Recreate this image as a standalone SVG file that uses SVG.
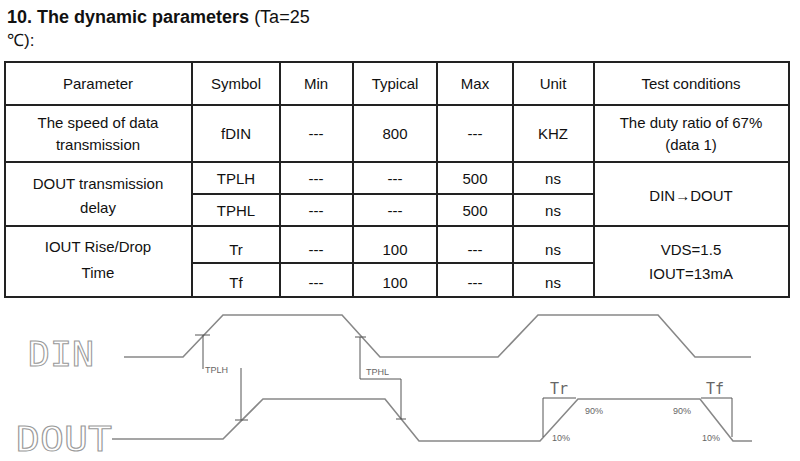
<svg xmlns="http://www.w3.org/2000/svg" width="800" height="461" viewBox="0 0 800 461">
<style>
.t{font-family:"Liberation Sans",Arial,sans-serif;font-size:15px;fill:#111;text-anchor:middle}
.g{fill:none;stroke:#222;stroke-width:2}
.w{fill:none;stroke:#888;stroke-width:1.6}
.d{fill:none;stroke:#555;stroke-width:1}
.s{font-family:"Liberation Sans",Arial,sans-serif;font-size:9px;fill:#666}
.big{font-family:"DejaVu Sans Mono",monospace;font-size:34px;fill:none;stroke:#999;stroke-width:1}
</style>
<rect width="800" height="461" fill="#fff"/>
<text x="7" y="23" font-family="Liberation Sans,Arial,sans-serif" font-size="18" fill="#111"><tspan font-weight="bold">10. The dynamic parameters</tspan> (Ta=25</text>
<text x="7" y="46" font-family="Liberation Sans,Arial,sans-serif" font-size="17" fill="#111">℃):</text>
<g id="table">
<rect class="g" x="5" y="62" width="784" height="235"/>
<path class="g" d="M5 105H789M5 162H789M5 226H789M192 194H594M192 263H594M192 62V297M280 62V297M353 62V297M437 62V297M513 62V297M594 62V297"/>
<g class="t">
<text x="98" y="89">Parameter</text><text x="236" y="89">Symbol</text><text x="316" y="89">Min</text><text x="395" y="89">Typical</text><text x="475" y="89">Max</text><text x="553" y="89">Unit</text><text x="691" y="89">Test conditions</text>
<text x="98" y="128">The speed of data</text><text x="98" y="150">transmission</text><text x="236" y="139">fDIN</text><text x="316" y="139">---</text><text x="395" y="139">800</text><text x="475" y="139">---</text><text x="553" y="139">KHZ</text><text x="691" y="128">The duty ratio of 67%</text><text x="691" y="150">(data 1)</text>
<text x="98" y="189">DOUT transmission</text><text x="98" y="213">delay</text>
<text x="236" y="184">TPLH</text><text x="316" y="184">---</text><text x="395" y="184">---</text><text x="475" y="184">500</text><text x="553" y="184">ns</text>
<text x="236" y="216">TPHL</text><text x="316" y="216">---</text><text x="395" y="216">---</text><text x="475" y="216">500</text><text x="553" y="216">ns</text>
<text x="691" y="201">DIN→DOUT</text>
<text x="98" y="252">IOUT Rise/Drop</text><text x="98" y="278">Time</text>
<text x="236" y="255">Tr</text><text x="316" y="255">---</text><text x="395" y="255">100</text><text x="475" y="255">---</text><text x="553" y="255">ns</text>
<text x="236" y="288">Tf</text><text x="316" y="288">---</text><text x="395" y="288">100</text><text x="475" y="288">---</text><text x="553" y="288">ns</text>
<text x="691" y="255">VDS=1.5</text><text x="691" y="279">IOUT=13mA</text>
</g>
</g>
<g id="waveforms">
<text class="big" x="28" y="366" textLength="66" lengthAdjust="spacingAndGlyphs">DIN</text>
<text class="big" x="16" y="451" textLength="96" lengthAdjust="spacingAndGlyphs">DOUT</text>
<path class="w" d="M124 357H183L223 315H342L380 357H498L538 315H658L695 357H751"/>
<path class="w" d="M112 439H223L263 399H385L419 441H540L578 399H700L733 441H752"/>
</g>
<g id="connectors">
<path class="d" d="M195 335H210M203 335V369M241 368V420M235 420H248M360 337V379H401M355 337H366M401 379V419M396 419H406M543 398V437M543 398H576M701 398H732M732 398V437"/>
<text class="s" x="205" y="373">TPLH</text>
<text class="s" x="366" y="375">TPHL</text>
<text x="550" y="394" font-family="DejaVu Sans Mono,monospace" font-size="15" fill="#666">Tr</text>
<text x="706" y="394" font-family="DejaVu Sans Mono,monospace" font-size="15" fill="#666">Tf</text>
<text class="s" x="585" y="414">90%</text>
<text class="s" x="552" y="441">10%</text>
<text class="s" x="673" y="414">90%</text>
<text class="s" x="702" y="441">10%</text>
</g>
</svg>
